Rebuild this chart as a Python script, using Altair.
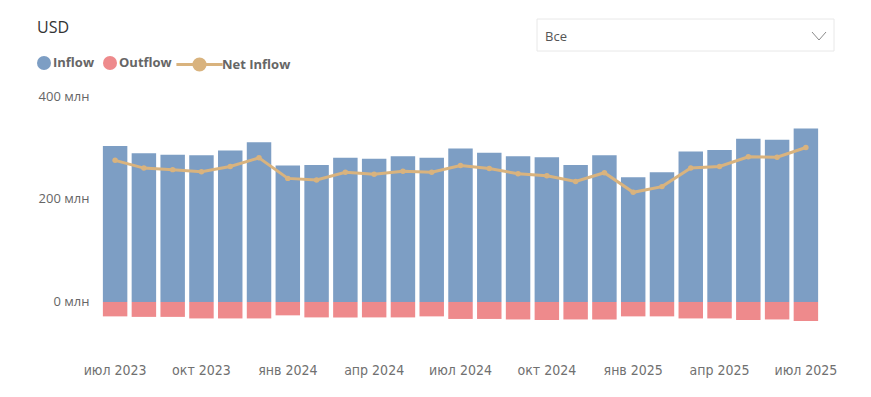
import altair as alt
import pandas as pd

months = ["июл 2023", "авг 2023", "сен 2023", "окт 2023", "ноя 2023", "дек 2023",
          "янв 2024", "фев 2024", "мар 2024", "апр 2024", "май 2024", "июн 2024",
          "июл 2024", "авг 2024", "сен 2024", "окт 2024", "ноя 2024", "дек 2024",
          "янв 2025", "фев 2025", "мар 2025", "апр 2025", "май 2025", "июн 2025",
          "июл 2025"]
inflow = [303, 289, 286, 285, 294, 310, 265, 266, 280, 278, 283, 280,
          298, 290, 283, 281, 266, 285, 242, 252, 292, 295, 317, 315, 337]
outflow = [-28, -29, -29, -32, -32, -32, -26, -30, -30, -30, -30, -28,
           -33, -33, -34, -35, -34, -34, -28, -28, -32, -32, -35, -34, -37]
net_inflow = [275, 260, 257, 253, 263, 280, 240, 237, 252, 248, 254, 252,
              265, 259, 249, 245, 234, 251, 213, 224, 260, 263, 282, 281, 300]
tick_months = months[::3]

C_IN, C_OUT, C_NET = "#7D9EC4", "#EE8A8C", "#D9B37E"
LABEL_FONT = "Open Sans"
X_FONT = "Liberation Sans Narrow, DejaVu Sans Condensed, sans-serif"

bars_df = pd.DataFrame({
    "month": months * 2,
    "type": ["Inflow"] * len(months) + ["Outflow"] * len(months),
    "value": inflow + outflow,
})
net_df = pd.DataFrame({"month": months, "net": net_inflow, "series": ["Net Inflow"] * len(months)})

x_enc = alt.X("month:N", sort=months,
              scale=alt.Scale(type="band", paddingInner=0.15, paddingOuter=0.1),
              axis=alt.Axis(title=None, values=tick_months, ticks=False, domain=False,
                            labelAngle=0, labelPadding=25, labelFont=X_FONT, labelFontSize=14,
                            labelColor="#707070", labelOverlap=False, grid=False))
y_axis = alt.Axis(title=None, values=[0, 200, 400], ticks=False, domain=False, grid=False,
                  labelExpr="datum.value + ' млн'", labelPadding=11, labelFont=LABEL_FONT,
                  labelFontSize=13, labelColor="#666666")
y_scale = alt.Scale(domain=[-70, 400], nice=False)

bars = alt.Chart(bars_df).mark_bar().encode(
    x=x_enc,
    y=alt.Y("value:Q", scale=y_scale, axis=y_axis),
    color=alt.Color("type:N", scale=alt.Scale(domain=["Inflow", "Outflow"], range=[C_IN, C_OUT]),
                    legend=alt.Legend(orient="none", legendX=-63, legendY=-40, direction="horizontal",
                                      title=None, symbolType="circle", symbolSize=196,
                                      symbolStrokeWidth=0, symbolOpacity=1, labelOffset=2,
                                      columnPadding=8, padding=0, labelFont=LABEL_FONT,
                                      labelFontSize=13, labelFontWeight="bold", labelColor="#666666")),
)

net_path = "M-3.3,0L-0.8,0M0.8,0L3.3,0M-0.8,0A0.8,0.8,0,1,1,0.8,0A0.8,0.8,0,1,1,-0.8,0Z"
line = alt.Chart(net_df).mark_line(strokeWidth=3).encode(
    x=x_enc,
    y=alt.Y("net:Q", scale=y_scale, axis=y_axis),
    color=alt.Color("series:N", scale=alt.Scale(domain=["Net Inflow"], range=[C_NET]),
                    legend=alt.Legend(orient="none", legendX=91, legendY=-40, direction="horizontal",
                                      title=None, symbolType=net_path, symbolSize=196,
                                      symbolFillColor=C_NET, symbolStrokeColor=C_NET,
                                      symbolStrokeWidth=3, symbolOpacity=1,
                                      labelOffset=14, padding=0, labelFont=LABEL_FONT,
                                      labelFontSize=13, labelFontWeight="bold", labelColor="#666666")),
)
points = alt.Chart(net_df).mark_circle(size=30, opacity=1, color=C_NET).encode(
    x=x_enc,
    y=alt.Y("net:Q", scale=y_scale, axis=y_axis),
)

one = pd.DataFrame({"a": [0]})
title_text = alt.Chart(one).mark_text(align="left", baseline="middle", font=LABEL_FONT,
                                      fontSize=16, color="#333333").encode(
    x=alt.value(-63), y=alt.value(-68), text=alt.value("USD"))
box = alt.Chart(one).mark_rect(fill="white", stroke="#e8e8e8", strokeWidth=1).encode(
    x=alt.value(437), x2=alt.value(734), y=alt.value(-77), y2=alt.value(-45))
box_text = alt.Chart(one).mark_text(align="left", baseline="middle", font=LABEL_FONT,
                                    fontSize=13, color="#555555").encode(
    x=alt.value(445), y=alt.value(-59), text=alt.value("Все"))
chev1 = alt.Chart(one).mark_rule(color="#8a8a8a", strokeWidth=1).encode(
    x=alt.value(712), y=alt.value(-64), x2=alt.value(719), y2=alt.value(-56))
chev2 = alt.Chart(one).mark_rule(color="#8a8a8a", strokeWidth=1).encode(
    x=alt.value(719), y=alt.value(-56), x2=alt.value(726), y2=alt.value(-64))

net_layer = alt.layer(line, points)

chart = alt.layer(bars, net_layer, title_text, box, box_text, chev1, chev2).resolve_scale(
    color="independent"
).properties(
    width=721, height=242,
    autosize=alt.AutoSizeParams(type="none"),
    padding={"left": 92, "top": 88, "right": 40, "bottom": 40},
).configure_view(stroke=None)

chart.save("out.html", embed_options={"renderer": "svg", "actions": False})
